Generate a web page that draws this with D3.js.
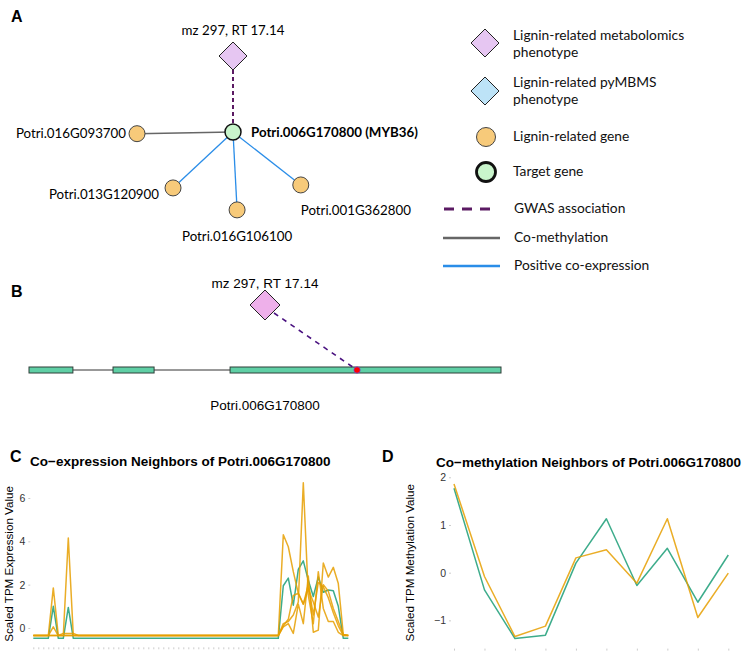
<!DOCTYPE html>
<html>
<head>
<meta charset="utf-8">
<script src="https://cdn.jsdelivr.net/npm/d3@7"></script>
<style>
body { margin: 0; background: #fff; }
</style>
</head>
<body>
<script>
// ---- data ----
var hubGene = "Potri.006G170800";
var metaboliteLabel = "mz 297, RT 17.14";
var neighborGenes = ["Potri.016G093700", "Potri.013G120900", "Potri.016G106100", "Potri.001G362800"];
var neighborEdge = ["methyl", "express", "express", "express"];
var neighborAngle = [179, 137, 87, 38];   // degrees, layout of network in panel A
var neighborDist = [96, 82, 78, 86];

var legendLabels = [["Lignin-related metabolomics", "phenotype"], ["Lignin-related pyMBMS", "phenotype"],
  ["Lignin-related gene"], ["Target gene"], ["GWAS association"], ["Co-methylation"], ["Positive co-expression"]];

var exons = [[0, 93], [178, 265], [426, 1000]];   // gene model, relative bp
var snpPos = 695;

// panel C: scaled TPM expression, 64 samples
var exprGreen = [
  -0.48,-0.48,-0.48,-0.48,1.0,-0.48,-0.48,0.95,-0.48,-0.48,-0.48,-0.48,-0.48,-0.48,-0.48,-0.48,
  -0.48,-0.48,-0.48,-0.48,-0.48,-0.48,-0.48,-0.48,-0.48,-0.48,-0.48,-0.48,-0.48,-0.48,-0.48,-0.48,
  -0.48,-0.48,-0.48,-0.48,-0.48,-0.48,-0.48,-0.48,-0.48,-0.48,-0.48,-0.48,-0.48,-0.48,-0.48,-0.48,
  -0.48,-0.48,1.95,2.3,1.05,2.7,3.1,2.2,1.45,2.35,1.65,1.75,1.72,1.0,-0.48,-0.48];
var exprOrange1 = [
  -0.35,-0.35,-0.35,-0.35,1.85,-0.35,-0.35,-0.35,-0.35,-0.35,-0.35,-0.35,-0.35,-0.35,-0.35,-0.35,
  -0.35,-0.35,-0.35,-0.35,-0.35,-0.35,-0.35,-0.35,-0.35,-0.35,-0.35,-0.35,-0.35,-0.35,-0.35,-0.35,
  -0.35,-0.35,-0.35,-0.35,-0.35,-0.35,-0.35,-0.35,-0.35,-0.35,-0.35,-0.35,-0.35,-0.35,-0.35,-0.35,
  -0.35,-0.35,4.3,3.75,2.6,1.6,1.1,2.0,0.6,2.1,1.9,1.4,0.7,0.1,-0.35,-0.35];
var exprOrange2 = [
  -0.35,-0.35,-0.35,-0.35,-0.35,-0.35,-0.35,4.15,-0.35,-0.35,-0.35,-0.35,-0.35,-0.35,-0.35,-0.35,
  -0.35,-0.35,-0.35,-0.35,-0.35,-0.35,-0.35,-0.35,-0.35,-0.35,-0.35,-0.35,-0.35,-0.35,-0.35,-0.35,
  -0.35,-0.35,-0.35,-0.35,-0.35,-0.35,-0.35,-0.35,-0.35,-0.35,-0.35,-0.35,-0.35,-0.35,-0.35,-0.35,
  -0.35,-0.35,0.2,0.3,0.6,1.2,6.7,1.5,0.2,2.6,0.9,0.3,0.3,-0.2,-0.35,-0.35];
var exprOrange3 = [
  -0.35,-0.35,-0.35,-0.35,0.05,-0.35,-0.35,-0.35,-0.35,-0.35,-0.35,-0.35,-0.35,-0.35,-0.35,-0.35,
  -0.35,-0.35,-0.35,-0.35,-0.35,-0.35,-0.35,-0.35,-0.35,-0.35,-0.35,-0.35,-0.35,-0.35,-0.35,-0.35,
  -0.35,-0.35,-0.35,-0.35,-0.35,-0.35,-0.35,-0.35,-0.35,-0.35,-0.35,-0.35,-0.35,-0.35,-0.35,-0.35,
  -0.35,-0.35,0.05,0.2,-0.25,1.1,0.2,2.4,-0.2,-0.1,3.0,2.35,2.8,2.05,-0.3,-0.35];
var exprOrange4 = [
  -0.35,-0.35,-0.35,-0.35,-0.35,-0.35,-0.25,-0.25,-0.25,-0.35,-0.35,-0.35,-0.35,-0.35,-0.35,-0.35,
  -0.35,-0.35,-0.35,-0.35,-0.35,-0.35,-0.35,-0.35,-0.35,-0.35,-0.35,-0.35,-0.35,-0.35,-0.35,-0.35,
  -0.35,-0.35,-0.35,-0.35,-0.35,-0.35,-0.35,-0.35,-0.35,-0.35,-0.35,-0.35,-0.35,-0.35,-0.35,-0.35,
  -0.35,-0.35,0.1,0.4,1.5,1.6,1.1,1.8,1.2,0.5,2.0,1.7,0.9,0.3,-0.3,-0.35];
var exprTicks = [0, 2, 4, 6];

// panel D: scaled methylation, 10 samples
var methGreen = [1.77, -0.36, -1.38, -1.31, 0.2, 1.13, -0.27, 0.51, -0.62, 0.37];
var methOrange = [1.86, -0.08, -1.34, -1.12, 0.31, 0.48, -0.22, 1.13, -0.94, -0.01];
var methTicks = [-1, 0, 1, 2];

// ---- setup ----
var svg = d3.select("body").append("svg")
    .attr("width", 743).attr("height", 665)
    .style("background-color", "#fff");

var calibri = "Lato, 'Open Sans', sans-serif";
var helv = "'Liberation Sans', Arial, sans-serif";
var GREEN = "#1b9e77", ORANGE = "#e69f00";

function panelLetter(t, x, y) {
  svg.append("text").attr("x", x).attr("y", y).text(t)
    .attr("font-family", helv).attr("font-weight", "bold").attr("font-size", 16);
}

function diamond(g, cx, cy, r, fill, stroke, sw) {
  g.append("path")
    .attr("d", "M" + cx + "," + (cy - r) + " L" + (cx + r) + "," + cy + " L" + cx + "," + (cy + r) + " L" + (cx - r) + "," + cy + " Z")
    .attr("fill", fill).attr("stroke", stroke).attr("stroke-width", sw);
}

// ---- panel A: network ----
panelLetter("A", 11, 22);
var cx = 233, cy = 132;
var gA = svg.append("g");

var pos = neighborGenes.map(function (d, i) {
  var a = neighborAngle[i] * Math.PI / 180;
  return {name: d, x: cx + neighborDist[i] * Math.cos(a), y: cy + neighborDist[i] * Math.sin(a), edge: neighborEdge[i]};
});

// metabolite edge
var metY = cy - 76;
gA.append("line").attr("x1", cx).attr("y1", metY + 14).attr("x2", cx).attr("y2", cy - 8)
  .attr("stroke", "#5b1a63").attr("stroke-width", 2).attr("stroke-dasharray", "4,3");

gA.selectAll("line.edge").data(pos).enter().append("line")
  .attr("class", "edge")
  .attr("x1", cx).attr("y1", cy).attr("x2", function (d) { return d.x; }).attr("y2", function (d) { return d.y; })
  .attr("stroke", function (d) { return d.edge == "methyl" ? "#666" : "#2a8de8"; })
  .attr("stroke-width", function (d) { return d.edge == "methyl" ? 1.5 : 1.3; });

diamond(gA, cx, metY, 14, "#e6c6f2", "#222", 1);
gA.append("text").attr("x", cx).attr("y", 35).attr("text-anchor", "middle")
  .attr("font-family", calibri).attr("font-size", 13.3).text(metaboliteLabel);

gA.selectAll("circle.gene").data(pos).enter().append("circle")
  .attr("cx", function (d) { return d.x; }).attr("cy", function (d) { return d.y; }).attr("r", 8)
  .attr("fill", "#f7ca7a").attr("stroke", "#444").attr("stroke-width", 1);

gA.append("circle").attr("cx", cx).attr("cy", cy).attr("r", 8)
  .attr("fill", "#c9f5cc").attr("stroke", "#111").attr("stroke-width", 1.5);

gA.append("text").attr("x", cx + 18).attr("y", cy + 5)
  .attr("font-family", calibri).attr("font-weight", "bold").attr("font-size", 13.3)
  .text(hubGene + " (MYB36)");

// labels around the neighbours
var labelOff = [[-11, 4, "end"], [-14, 11, "end"], [0, 31, "middle"], [0, 30, "start"]];
gA.selectAll("text.gene").data(pos).enter().append("text")
  .attr("x", function (d, i) { return d.x + labelOff[i][0]; })
  .attr("y", function (d, i) { return d.y + labelOff[i][1]; })
  .attr("text-anchor", function (d, i) { return labelOff[i][2]; })
  .attr("font-family", calibri).attr("font-size", 13.3)
  .text(function (d) { return d.name; });

// ---- legend ----
var lg = svg.append("g");
var lx = 485, tx = 513;
diamond(lg, lx, 43, 14, "#e6c6f2", "#222", 1);
diamond(lg, lx, 91, 14, "#bde3f7", "#222", 1);
lg.append("circle").attr("cx", lx + 1).attr("cy", 137).attr("r", 9.5).attr("fill", "#f7ca7a").attr("stroke", "#444").attr("stroke-width", 1);
lg.append("circle").attr("cx", lx + 1).attr("cy", 172).attr("r", 9.5).attr("fill", "#c9f5cc").attr("stroke", "#111").attr("stroke-width", 2.8);
lg.append("line").attr("x1", 444).attr("x2", 496).attr("y1", 209).attr("y2", 209)
  .attr("stroke", "#5b1a63").attr("stroke-width", 3).attr("stroke-dasharray", "10,8");
lg.append("line").attr("x1", 443).attr("x2", 500).attr("y1", 238).attr("y2", 238)
  .attr("stroke", "#666").attr("stroke-width", 2.5);
lg.append("line").attr("x1", 443).attr("x2", 500).attr("y1", 266).attr("y2", 266)
  .attr("stroke", "#2a8de8").attr("stroke-width", 2.5);

var legendY = [40, 87, 141, 176, 213, 242, 270];
legendLabels.forEach(function (lines, i) {
  var t = lg.append("text").attr("font-family", calibri).attr("font-size", 13.8).attr("fill", "#111");
  lines.forEach(function (s, j) {
    t.append("tspan").attr("x", tx + (i >= 4 ? 1 : 0)).attr("y", legendY[i] + j * 17).text(s);
  });
});

// ---- panel B: gene model ----
panelLetter("B", 11, 297);
var xg = d3.scaleLinear().domain([0, 1000]).range([29, 501]);
var gy = 370;
var gB = svg.append("g");
gB.append("line").attr("x1", xg(0)).attr("x2", xg(1000)).attr("y1", gy).attr("y2", gy)
  .attr("stroke", "#333").attr("stroke-width", 1);
gB.selectAll("rect.exon").data(exons).enter().append("rect")
  .attr("x", function (d) { return xg(d[0]); }).attr("width", function (d) { return xg(d[1]) - xg(d[0]); })
  .attr("y", gy - 3).attr("height", 6)
  .attr("fill", "#5fcfa5").attr("stroke", "#2f3f39").attr("stroke-width", 1);

var bdx = 265, bdy = 305;
gB.append("line").attr("x1", bdx + 9).attr("y1", bdy + 8).attr("x2", xg(snpPos)).attr("y2", gy)
  .attr("stroke", "#4a1280").attr("stroke-width", 1.6).attr("stroke-dasharray", "5,5");
diamond(gB, bdx, bdy, 15, "#eeb0ea", "#222", 1);
gB.append("circle").attr("cx", xg(snpPos)).attr("cy", gy).attr("r", 3.2)
  .attr("fill", "#f00").attr("stroke", "#55f").attr("stroke-width", 0.6);
gB.append("text").attr("x", bdx).attr("y", 288).attr("text-anchor", "middle")
  .attr("font-family", helv).attr("font-size", 13.5).text(metaboliteLabel);
gB.append("text").attr("x", bdx).attr("y", 410).attr("text-anchor", "middle")
  .attr("font-family", helv).attr("font-size", 13.5).text(hubGene);

// ---- line charts ----
function lineChart(o) {
  var g = svg.append("g");
  var idx = d3.range(o.series[0].values.length);
  var x = d3.scalePoint().domain(idx).range(o.xr);
  var y = d3.scaleLinear().domain(o.yd).range(o.yr);

  var ya = g.append("g").attr("transform", "translate(" + (o.xr[0] - 3) + ",0)")
    .call(d3.axisLeft(y).tickValues(o.ticks).tickSize(2).tickPadding(3).tickFormat(d3.format("d")));
  ya.select(".domain").remove();
  ya.selectAll("line").attr("stroke", "#ccc");
  ya.selectAll("text").attr("font-family", helv).attr("font-size", 10.5).attr("fill", "#333");

  var xa = g.append("g").attr("transform", "translate(0," + (o.yr[0] + 2) + ")")
    .call(d3.axisBottom(x).tickSize(2).tickFormat(""));
  xa.select(".domain").remove();
  xa.selectAll("line").attr("stroke", "#ccc");

  var line = d3.line().x(function (d, i) { return x(i); }).y(function (d) { return y(d); });
  g.selectAll("path.series").data(o.series).enter().append("path")
    .attr("d", function (d) { return line(d.values); })
    .attr("fill", "none").attr("stroke", function (d) { return d.color; })
    .attr("stroke-width", 1.5).attr("stroke-opacity", 0.85).attr("stroke-linejoin", "round");

  g.append("text").attr("transform", "translate(" + o.labX + "," + ((o.yr[0] + o.yr[1]) / 2 + 2) + ") rotate(-90)")
    .attr("text-anchor", "middle").attr("font-family", helv).attr("font-size", 11.6).text(o.ylab);
  g.append("text").attr("x", o.titleX).attr("y", o.titleY).attr("font-family", helv)
    .attr("font-weight", "bold").attr("font-size", 13.5).text(o.title);
}

panelLetter("C", 10, 462);
lineChart({
  series: [{values: exprGreen, color: GREEN}, {values: exprOrange4, color: ORANGE}, {values: exprOrange3, color: ORANGE},
           {values: exprOrange1, color: ORANGE}, {values: exprOrange2, color: ORANGE}],
  xr: [33.3, 348.3], yd: [-0.8, 6.9], yr: [645.3, 478.5], ticks: exprTicks,
  ylab: "Scaled TPM Expression Value", labX: 13,
  title: "Co\u2212expression Neighbors of " + hubGene, titleX: 30, titleY: 466
});

panelLetter("D", 382, 462);
lineChart({
  series: [{values: methGreen, color: GREEN}, {values: methOrange, color: ORANGE}],
  xr: [454, 728.3], yd: [-1.55, 2.05], yr: [646.6, 474.9], ticks: methTicks,
  ylab: "Scaled TPM Methylation Value", labX: 414,
  title: "Co\u2212methylation Neighbors of " + hubGene, titleX: 436, titleY: 467
});
</script>
</body>
</html>
